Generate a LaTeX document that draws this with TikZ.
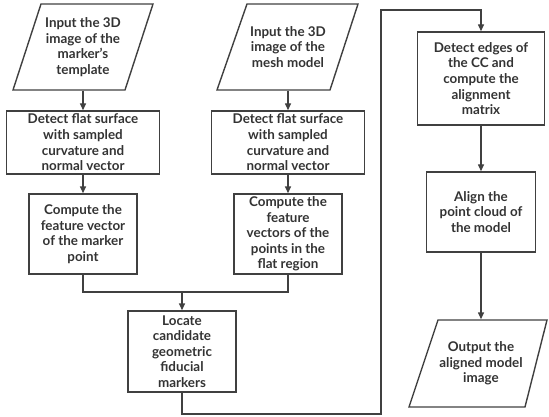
\documentclass[tikz,border=0pt]{standalone}
\usepackage{fontspec}
\setmainfont{Lato}
\usetikzlibrary{arrows.meta,calc}
\definecolor{ln}{HTML}{404040}
\definecolor{tx}{HTML}{333333}
\begin{document}
\begin{tikzpicture}[x=1pt,y=-1pt,
  line width=1.4pt,
  every node/.style={font=\fontsize{13.4}{15.6}\selectfont\bfseries, text=tx, align=center, inner sep=0pt},
  box/.style={draw=ln, rectangle},
  ptext/.style={rectangle, minimum height=86pt},
  arr/.style={draw=ln, -{Triangle[length=7pt,width=6pt]}},
  conn/.style={draw=ln}]
\useasboundingbox (0,0) rectangle (549,417);
% left column
\node[ptext, minimum height=86pt] (p1) at (83,47) {Input the 3D\\image of the\\marker's\\template};
\draw[ln] (41,4) -- (153,4) -- (125,90) -- (13,90) -- cycle;
\node[box, minimum width=153pt, minimum height=63pt] (b1) at (83,142.5) {Detect flat surface\\with sampled\\curvature and\\normal vector};
\node[box, minimum width=108pt, minimum height=80pt] (b2) at (83,234) {Compute the\\feature vector\\of the marker\\point};
% middle column
\node[ptext, minimum height=86pt] (m1) at (288,47) {Input the 3D\\image of the\\mesh model};
\draw[ln] (247,4) -- (358,4) -- (330,90) -- (217,90) -- cycle;
\node[box, minimum width=153pt, minimum height=63pt] (m2) at (288,142.5) {Detect flat surface\\with sampled\\curvature and\\normal vector};
\node[box, minimum width=108pt, minimum height=80pt] (m3) at (288,234) {Compute the\\feature\\vectors of the\\points in the\\flat region};
% bottom center
\node[box, minimum width=108pt, minimum height=81pt] (loc) at (182,351.5) {Locate\\candidate\\geometric\\fiducial\\markers};
% right column
\node[box, minimum width=127pt, minimum height=93pt] (r1) at (481,78.5) {Detect edges of\\the CC and\\compute the\\alignment\\matrix};
\node[box, minimum width=109pt, minimum height=80pt] (r2) at (481,212) {Align the\\point cloud of\\the model};
\node[ptext, minimum height=87pt] (r3) at (481,363.5) {Output the\\aligned model\\image};
\draw[ln] (438,320) -- (547,320) -- (525,407) -- (409,407) -- cycle;
% connectors
\draw[arr] (p1.south) -- (b1.north);
\draw[arr] (b1.south) -- (b2.north);
\draw[arr] (m1.south) -- (m2.north);
\draw[arr] (m2.south) -- (m3.north);
\coordinate (j) at (182,292);
\draw[conn] (b2.south) |- (j);
\draw[conn] (m3.south) |- (j);
\draw[arr] (j) -- (loc.north);
\coordinate (c1) at (381,414);
\coordinate (c2) at (381,10);
\draw[arr] (loc.south) |- (c1) -- (c2) -| (r1.north);
\draw[arr] (r1.south) -- (r2.north);
\draw[arr] (r2.south) -- (r3.north);
\end{tikzpicture}
\end{document}
